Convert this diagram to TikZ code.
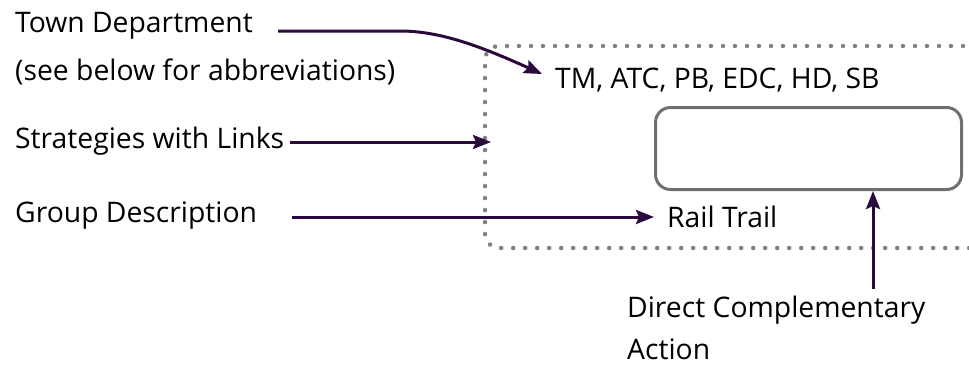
\documentclass[tikz,border=0pt]{standalone}
\usepackage{fontspec}
\setmainfont{Open Sans}
\usetikzlibrary{arrows.meta}
\definecolor{arr}{HTML}{2A0A3C}
\definecolor{dotc}{HTML}{808080}
\definecolor{boxc}{HTML}{707070}
\begin{document}
\begin{tikzpicture}[x=1pt,y=-1pt,
  lbl/.style={anchor=base west,inner sep=0pt,font=\fontsize{28.3}{34}\selectfont},
  conn/.style={draw=arr,line width=3pt,-{Stealth[length=18pt,width=14pt,inset=3pt]}},
  dotline/.style={draw=dotc,line width=4.5pt,line cap=round,dash pattern=on 0pt off 12pt}]
\useasboundingbox (0,0) rectangle (969,372);
% dotted frame
\draw[dotline,rounded corners=14pt] (975,46) -- (485,46) -- (485,248) -- (975,248);
% texts
\node[lbl] (town) at (15,32) {Town Department};
\node[lbl] (see) at (15,80) {(see below for abbreviations)};
\node[lbl] (strat) at (15,148) {Strategies with Links};
\node[lbl] (group) at (15,222) {Group Description};
\node[lbl] (tm) at (555,88) {TM, ATC, PB, EDC, HD, SB};
\node[lbl] (rail) at (667,227) {Rail Trail};
\node[lbl] (dca) at (627,317) {Direct Complementary};
\node[lbl] (act) at (627,359) {Action};
% rounded box
\node[draw=boxc,line width=3pt,rounded corners=15pt,minimum width=306pt,minimum height=82pt,inner sep=0pt] (box) at (808.5,148.5) {};
% coordinates
\coordinate (t0) at (278,31);
\coordinate (t1) at (542,74);
\coordinate (s0) at (290,142);
\coordinate (s1) at (491,142);
\coordinate (g0) at (292,217);
\coordinate (g1) at (654,217);
\coordinate (d0) at (873,289);
% connectors
\draw[conn] (t0) -- (400,31) .. controls (440,31) and (480,46) .. (t1);
\draw[conn] (s0) -- (s1);
\draw[conn] (g0) -- (g1);
\draw[conn] (d0) -- (box.south -| d0);
\end{tikzpicture}
\end{document}
